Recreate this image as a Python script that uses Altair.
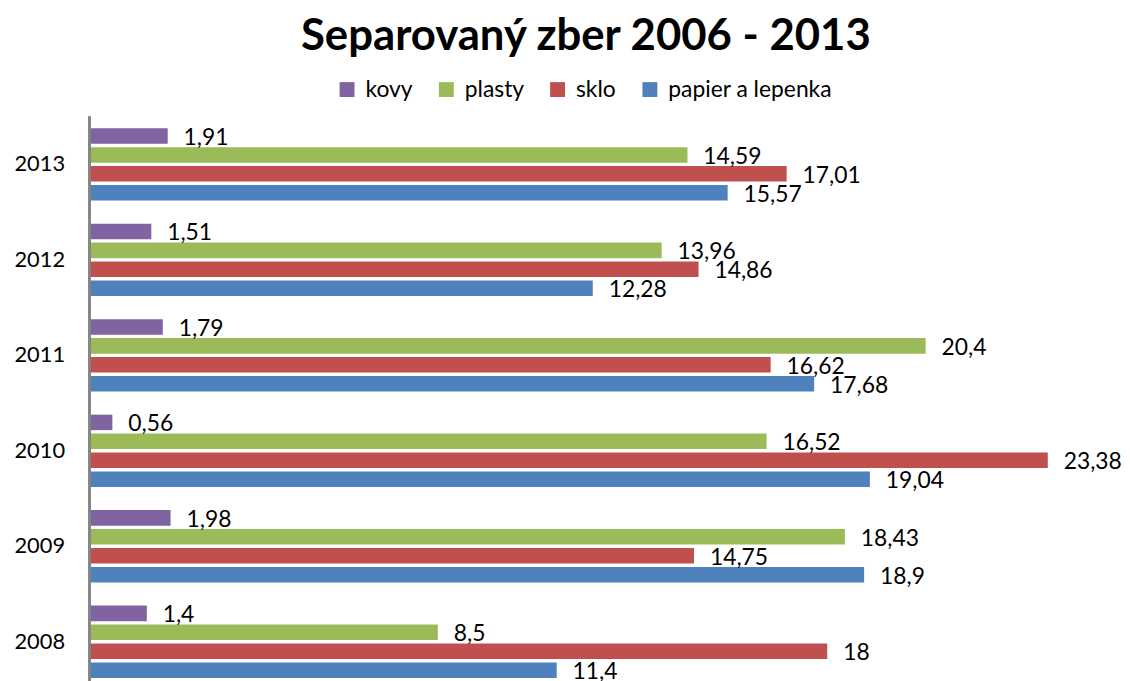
import altair as alt
import pandas as pd

years = ["2013", "2012", "2011", "2010", "2009", "2008"]
series = ["kovy", "plasty", "sklo", "papier a lepenka"]
colors = ["#8064A2", "#9BBB59", "#C0504D", "#4F81BD"]

kovy = [1.91, 1.51, 1.79, 0.56, 1.98, 1.4]
plasty = [14.59, 13.96, 20.4, 16.52, 18.43, 8.5]
sklo = [17.01, 14.86, 16.62, 23.38, 14.75, 18]
papier = [15.57, 12.28, 17.68, 19.04, 18.9, 11.4]

rows = []
for name, vals in zip(series, [kovy, plasty, sklo, papier]):
    for y, v in zip(years, vals):
        rows.append({"rok": y, "druh": name, "hodnota": v,
                     "label": f"{v:g}".replace(".", ",")})
df = pd.DataFrame(rows)

FONT = "Lato"
H = 566

yscale = alt.Scale(domain=years, range=[0, 577], paddingInner=0, paddingOuter=0)
yoff = alt.Scale(domain=series, paddingInner=0.18, paddingOuter=0.61)
xscale = alt.Scale(domain=[0, 24.9], nice=False)
yaxis = alt.Axis(title=None, domain=False, ticks=False, grid=False,
                 labelFontSize=22, labelFont=FONT, labelColor="black",
                 labelPadding=25)

base = alt.Chart(df)

bars = base.mark_bar().encode(
    y=alt.Y("rok:N", scale=yscale, axis=yaxis, sort=years),
    yOffset=alt.YOffset("druh:N", scale=yoff, sort=series),
    x=alt.X("hodnota:Q", scale=xscale, axis=None),
    color=alt.Color("druh:N", scale=alt.Scale(domain=series, range=colors),
                    sort=series,
                    legend=alt.Legend(orient="none", legendX=248, legendY=-39,
                                      direction="horizontal", title=None,
                                      symbolType="square", symbolSize=225,
                                      labelFontSize=23, labelFont=FONT,
                                      labelColor="black", labelOffset=7,
                                      labelLimit=400,
                                      columnPadding=22, symbolStrokeWidth=0,
                                      padding=0)),
)

labels = base.mark_text(align="left", baseline="middle", dx=16, dy=2,
                        fontSize=23, font=FONT, color="black").encode(
    y=alt.Y("rok:N", scale=yscale, axis=yaxis, sort=years),
    yOffset=alt.YOffset("druh:N", scale=yoff, sort=series),
    x=alt.X("hodnota:Q", scale=xscale, axis=None),
    text="label:N",
)

axis_line = alt.Chart(df).mark_rule(color="#868686", strokeWidth=1.5).encode(
    x=alt.value(0), y=alt.value(0), y2=alt.value(620)
)

chart = alt.layer(bars, labels, axis_line).properties(
    width=1028,
    height=H,
    title=alt.TitleParams("Separovaný zber 2006 - 2013", fontSize=44,
                          font=FONT, fontWeight="bold", color="black",
                          anchor="middle", dx=-14, dy=-15),
    autosize=alt.AutoSizeParams(type="none"),
    padding={"left": 82, "top": 107, "right": 12, "bottom": 0},
).configure_view(stroke=None)

chart.save("out.html", embed_options={"renderer": "svg", "actions": False})
